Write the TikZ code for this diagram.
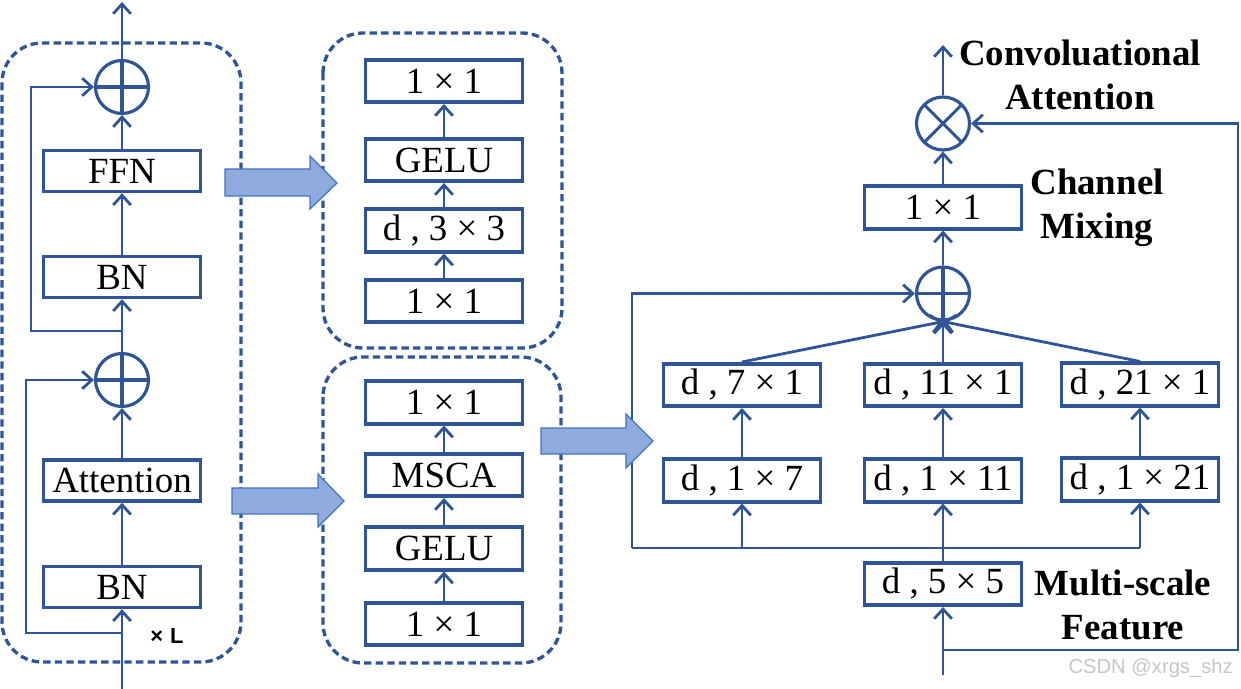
\documentclass[tikz,border=0pt]{standalone}
\usepackage{fontspec}
\setmainfont{Liberation Serif}
\newfontfamily\sansf{Liberation Sans}
\usetikzlibrary{arrows.meta}
\definecolor{lb}{HTML}{2F5597}
\definecolor{fatfill}{HTML}{8FAADC}
\definecolor{fatdraw}{HTML}{4472C4}
\begin{document}
\begin{tikzpicture}[x=0.02cm,y=-0.02cm,
 blk/.style={draw=lb,line width=2pt,minimum width=3.14cm,minimum height=0.85cm,inner sep=0pt,font=\fontsize{21}{25}\selectfont},
 conn/.style={draw=lb,line width=1.6pt,-{Straight Barb[length=5.5pt,width=10pt,line width=1.6pt]}},
 plain/.style={draw=lb,line width=1.6pt},
 grp/.style={draw=lb,line width=1.9pt,dash pattern=on 4.2pt off 2.4pt,rounded corners=0.8cm},
 opl/.style={circle,draw=lb,line width=1.8pt,minimum size=1.06cm,inner sep=0pt,
   path picture={\draw[lb,line width=1.8pt] (path picture bounding box.north)--(path picture bounding box.south) (path picture bounding box.west)--(path picture bounding box.east);}},
 otm/.style={circle,draw=lb,line width=1.8pt,minimum size=1.06cm,inner sep=0pt,
   path picture={\draw[lb,line width=1.8pt] (path picture bounding box.north west)--(path picture bounding box.south east) (path picture bounding box.south west)--(path picture bounding box.north east);}},
 lbl/.style={font=\bfseries\fontsize{21}{25}\selectfont,align=center,inner sep=0pt},
 fat/.style={fill=fatfill,draw=fatdraw,line width=0.7pt}
]
\useasboundingbox (0,0) rectangle (1241,689);

% dashed groups
\draw[grp] (2,43) rectangle (241,662);
\draw[grp] (323,33) rectangle (562,348);
\draw[grp] (323,357) rectangle (561,663);

% left column
\node[opl] (p1) at (122,87) {};
\node[blk,minimum height=0.82cm] (ffn) at (122,171) {FFN};
\node[blk,minimum height=0.82cm] (bn1) at (122,277) {BN};
\node[opl] (p2) at (122,380) {};
\node[blk,minimum height=0.82cm] (att) at (122,480.5) {Attention};
\node[blk,minimum height=0.82cm] (bn2) at (122,587) {BN};
\coordinate (top1) at (122,2);
\coordinate (in1) at (122,689);
\coordinate (s1) at (122,331);
\coordinate (s1l) at (31,331);
\coordinate (s2) at (122,633);
\coordinate (s2l) at (26,633);
\draw[conn] (p1.north) -- (top1);
\draw[conn] (ffn.north) -- (p1.south);
\draw[conn] (bn1.north) -- (ffn.south);
\draw[conn] (p2.north) -- (bn1.south);
\draw[conn] (att.north) -- (p2.south);
\draw[conn] (bn2.north) -- (att.south);
\draw[conn] (in1) -- (bn2.south);
\draw[conn] (s1) -- (s1l) |- (p1.west);
\draw[conn] (s2) -- (s2l) |- (p2.west);
\node[font=\sansf\bfseries\fontsize{12.5}{14}\selectfont] (xl) at (167,636) {×\hspace{4pt}L};

% top middle group
\node[blk] (m1) at (444,81) {1 × 1};
\node[blk] (m2) at (444,160) {GELU};
\node[blk] (m3) at (444,230.5) {d , 3 × 3};
\node[blk] (m4) at (444,301) {1 × 1};
\draw[conn] (m4.north) -- (m3.south);
\draw[conn] (m3.north) -- (m2.south);
\draw[conn] (m2.north) -- (m1.south);

% bottom middle group
\node[blk] (n1) at (444,402.5) {1 × 1};
\node[blk] (n2) at (444,475) {MSCA};
\node[blk] (n3) at (444,548.5) {GELU};
\node[blk] (n4) at (444,624) {1 × 1};
\draw[conn] (n4.north) -- (n3.south);
\draw[conn] (n3.north) -- (n2.south);
\draw[conn] (n2.north) -- (n1.south);

% right part
\node[blk] (a7) at (742,385) {d , 7 × 1};
\node[blk] (a11) at (943,385) {d , 11 × 1};
\node[blk] (a21) at (1140,384.5) {d , 21 × 1};
\node[blk] (b7) at (742,480.5) {d , 1 × 7};
\node[blk] (b11) at (943,480.5) {d , 1 × 11};
\node[blk] (b21) at (1140,479.5) {d , 1 × 21};
\node[blk] (d55) at (943,584) {d , 5 × 5};
\node[opl] (pR) at (943,293.5) {};
\node[blk] (cm) at (943,207.5) {1 × 1};
\node[otm] (ot) at (943,123.5) {};
\coordinate (outR) at (943,45);
\coordinate (hl) at (632,548);
\coordinate (hr) at (1140,548);
\coordinate (inR) at (943,675);
\coordinate (fb) at (943,650);
\coordinate (fbr) at (1238,650);

\draw[plain] (hl) -- (hr);
\draw[conn] (hl) |- (pR.west);
\draw[conn] (b7.south |- hl) -- (b7.south);
\draw[conn] (b21.south |- hl) -- (b21.south);
\draw[conn] (d55.north) -- (b11.south);
\draw[conn] (b7.north) -- (a7.south);
\draw[conn] (b11.north) -- (a11.south);
\draw[conn] (b21.north) -- (a21.south);
\draw[conn] (a7.north) -- (pR.south);
\draw[conn] (a11.north) -- (pR.south);
\draw[conn] (a21.north) -- (pR.south);
\draw[conn] (pR.north) -- (cm.south);
\draw[conn] (cm.north) -- (ot.south);
\draw[conn] (ot.north) -- (outR);
\draw[conn] (inR) -- (d55.south);
\draw[conn] (fb) -- (fbr) |- (ot.east);

% labels
\node[lbl] (lconv) at (1080,75) {Convoluational\\Attention};
\node[lbl] (lch) at (1097,208) {Channel\\Mixing};
\node[lbl] (lms) at (1123,605) {Multi-scale\\Feature};
\node[anchor=east,text=gray!45,font=\sansf\fontsize{11.5}{13}\selectfont] (wm) at (1239,668) {CSDN @xrgs\_shz};

% fat arrows
\draw[fat] (225,169)--(310,169)--(310,156)--(337,183)--(310,209)--(310,196)--(225,196)--cycle;
\draw[fat] (232,488)--(318,488)--(318,474)--(344,501)--(318,527)--(318,514)--(232,514)--cycle;
\draw[fat] (541,428)--(626,428)--(626,414)--(653,441)--(626,468)--(626,454)--(541,454)--cycle;
\end{tikzpicture}
\end{document}
